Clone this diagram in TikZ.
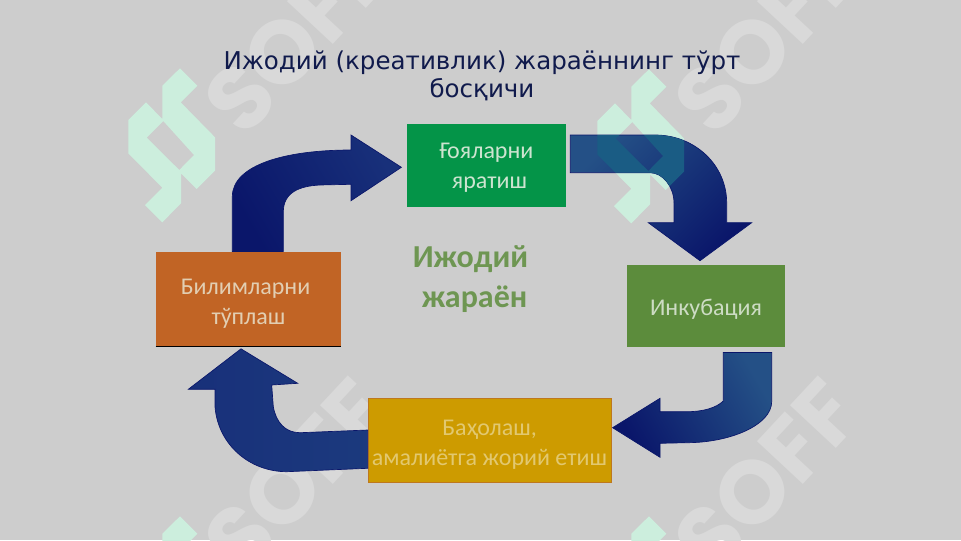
\documentclass[tikz,border=0pt]{standalone}
\usepackage{fontspec}
\setmainfont{Carlito}
\newfontfamily\titlefont{DejaVu Sans}
\newfontfamily\markfont{Poppins}
\usetikzlibrary{calc}

\definecolor{pagegrey}{RGB}{205,205,205}
\definecolor{markgrey}{RGB}{217,217,217}
\definecolor{logomint}{RGB}{204,238,221}
\definecolor{logoteal}{RGB}{26,92,132}
\definecolor{titlenavy}{RGB}{16,26,76}
\definecolor{goyagreen}{RGB}{4,148,72}
\definecolor{bilimorange}{RGB}{193,100,37}
\definecolor{inkubgreen}{RGB}{92,140,60}
\definecolor{baholgold}{RGB}{205,155,0}
\definecolor{arrowdark}{RGB}{10,22,106}
\definecolor{arrowmid}{RGB}{24,48,122}
\definecolor{arrowlight}{RGB}{36,80,134}

% block arrows, tail and tip come from the boxes
\newcommand{\arrowgoya}{(tailA) -- (232.3,196.7)
  .. controls (232.3,165) and (285,150) .. (351,150) -- (351,135) -- (tipA)
  -- (351,200.7) -- (351,184.3) -- (320,185) .. controls (300,186) and (283.3,192) .. (283.3,212)
  -- (tailAr) -- cycle}
\newcommand{\arrowinkub}{(tailB) -- (655,135)
  .. controls (695,135) and (726.7,165) .. (726.7,203) -- (726.7,222.7) -- (751.7,222.7) -- (tipB)
  -- (648.3,222.7) -- (674,222.7) -- (674,203) .. controls (674,187) and (663,172.7) .. (650,172.7)
  -- (tailBr) -- cycle}
\newcommand{\arrowbahol}{(tailC) -- (771.7,401.7)
  .. controls (771.7,425) and (730,442.7) .. (686.7,442.7) -- (660,443.3) -- (660,457.3) -- (tipC)
  -- (660,398.3) -- (660,411.7) -- (686.7,411.7) .. controls (703,411.7) and (716,408) .. (723.3,401)
  -- (tailCr) -- cycle}
\newcommand{\arrowbilim}{(tailD) -- (300,432.7)
  .. controls (285,432.7) and (276,422) .. (273.3,406.7) -- (271.7,385) -- (297.7,383.3) -- (tipD)
  -- (188.3,389.3) -- (215,389.3) -- (215,406.7)
  .. controls (218,445) and (250,471.7) .. (286.7,471.7) -- (tailDr) -- cycle}
\newcommand{\logomark}[3]{\fill[#3, even odd rule, shift={(#1,#2)}]
  (180,68.3) -- (197.3,85.7) -- (180.7,102.3) -- (215,137.3) -- (215,170.7) -- (196.7,189)
  -- (181,173.3) -- (181,203.3) -- (162.3,222.3) -- (145,205) -- (162.3,187.7) -- (128.3,153.3)
  -- (128.3,120) -- (146,102.3) -- (162.3,119) -- (162.3,85.7) -- cycle
  (163.3,121) -- (194,155) -- (179.3,170) -- (146.7,137.7) -- cycle;}
\newcommand{\stagelift}[1]{\rule{0pt}{#1}}

\begin{document}
\begin{tikzpicture}[
    x=0.75pt, y=-0.75pt,
    stagebox/.style={minimum width=#1*0.75pt, inner sep=0pt, font=\fontsize{18}{22.5}\selectfont, align=center},
    markword/.style={text=markgrey, rotate=47, font=\markfont\bfseries\fontsize{67}{67}\selectfont},
    arrowbody/.style={draw=arrowdark, line width=0.5pt},
]
\useasboundingbox (0,0) rectangle (961,540);
\clip (0,0) rectangle (961,540);
\fill[pagegrey] (0,0) rectangle (961,540);

% --- Watermarks ---
\node[markword] (markA) at (297,37) {SOFF};
\node[markword] (markB) at (767,37) {SOFF};
\node[markword] (markC) at (297,477) {SOFF};
\node[markword] (markD) at (767,477) {SOFF};
\logomark{0}{0}{logomint}
\logomark{469}{1}{logomint}
\logomark{0}{448}{logomint}
\logomark{469}{448}{logomint}

% --- Title ---
\node[text=titlenavy, align=center, font=\titlefont\fontsize{18.4}{21}\selectfont] (title) at (482,76)
  {Ижодий (креативлик) жараённинг тўрт\\босқичи};

% --- Boxes ---
\node[stagebox=159, minimum height=83*0.75pt, fill=goyagreen, text={rgb,255:red,205;green,228;blue,208}] (goya) at (486.5,165.5)
  {\stagelift{15pt}Ғояларни\\\hspace*{.25em}яратиш};
\node[stagebox=185, minimum height=94.5*0.75pt, fill=bilimorange, text={rgb,255:red,226;green,206;blue,178}] (bilim) at (248.5,299)
  {\stagelift{18pt}Билимларни\hspace*{.25em}\\тўплаш};
\node[stagebox=158, minimum height=82*0.75pt, fill=inkubgreen, text={rgb,255:red,205;green,220;blue,196}] (inkub) at (706,306)
  {\stagelift{17.5pt}Инкубация};
\node[stagebox=243, minimum height=83.5*0.75pt, fill=baholgold, draw={rgb,255:red,190;green,120;blue,30}, line width=0.4pt, text={rgb,255:red,226;green,200;blue,112}] (bahol) at (489.5,440.5)
  {\stagelift{18pt}Баҳолаш,\\амалиётга жорий етиш};
\draw[black, line width=0.7pt] (bilim.south west) -- (bilim.south east);

\node[text={rgb,255:red,110;green,150;blue,82}, align=center, font=\bfseries\fontsize{24}{30}\selectfont] (center) at (470.5,279.5)
  {Ижодий\\\hspace*{.25em}жараён};

% --- Arrows ---
\coordinate (tailA) at ($(bilim.north)+(-16.2,0)$);
\coordinate (tailAr) at ($(bilim.north)+(34.8,0)$);
\coordinate (tipA) at ($(goya.west)+(-5.3,1.8)$);
\coordinate (tailB) at ($(goya.east)+(4,-30.5)$);
\coordinate (tailBr) at ($(goya.east)+(4,7.2)$);
\coordinate (tipB) at ($(inkub.north)+(-6,-4)$);
\coordinate (tailC) at ($(inkub.south)+(65.7,5.3)$);
\coordinate (tailCr) at ($(inkub.south)+(17.3,5.3)$);
\coordinate (tipC) at ($(bahol.east)+(1.3,-12.8)$);
\coordinate (tailD) at ($(bahol.west)+(0,-10.5)$);
\coordinate (tailDr) at ($(bahol.west)+(0,27.8)$);
\coordinate (tipD) at ($(bilim.south)+(-7.5,2.3)$);

\shadedraw[arrowbody, left color=arrowmid, right color=arrowdark, shading angle=-60] \arrowgoya;
\shadedraw[arrowbody, left color=arrowlight, right color=arrowdark, shading angle=45] \arrowinkub;
\begin{scope}
  \clip \arrowinkub;
  \logomark{469}{1}{logoteal}
\end{scope}
\shadedraw[arrowbody, left color=arrowlight, right color=arrowdark, shading angle=-60] \arrowbahol;
\shadedraw[arrowbody, left color=arrowmid!70!arrowlight, middle color=arrowdark!50!arrowmid, right color=arrowmid, shading angle=-90] \arrowbilim;
\end{tikzpicture}
\end{document}
